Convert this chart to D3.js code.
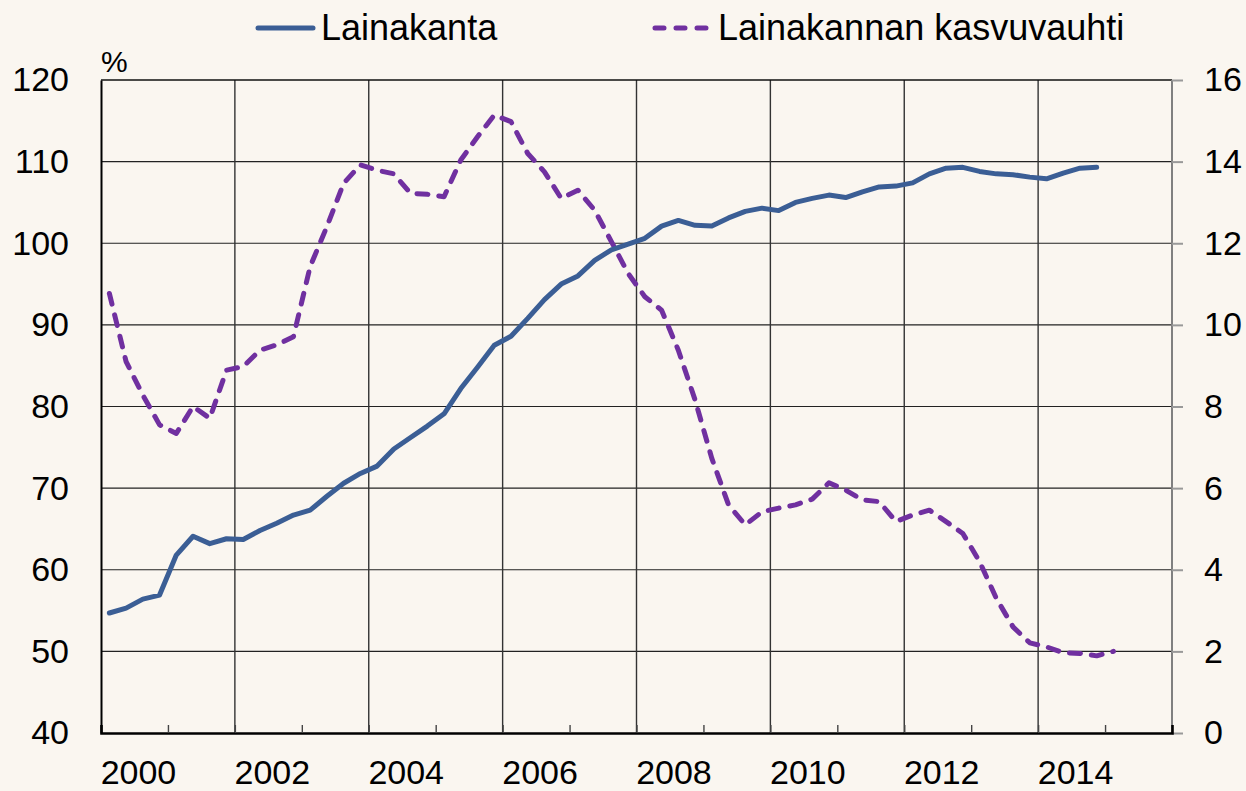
<!DOCTYPE html>
<html>
<head>
<meta charset="utf-8">
<script src="https://cdn.jsdelivr.net/npm/d3@7"></script>
<style>
  html, body { margin: 0; padding: 0; background: #FAF6F0; }
  svg { display: block; font-family: "Liberation Sans", Arial, sans-serif; }
</style>
</head>
<body>
<svg id="chart" width="1246" height="791"></svg>
<script>
// ---- data (quarterly, 2000Q1 ...) ----
const startYear = 2000;
const seriesNames = ["Lainakanta", "Lainakannan kasvuvauhti"];
// Lainakanta, % (left axis), 2000Q1–2014Q4
const lainakanta = [
  54.7, 55.3, 56.4, 56.9, 61.8, 64.1, 63.2, 63.8,
  63.7, 64.8, 65.7, 66.7, 67.3, 69.0, 70.6, 71.8,
  72.7, 74.8, 76.2, 77.6, 79.1, 82.2, 84.8, 87.5,
  88.6, 90.8, 93.1, 95.0, 96.0, 97.9, 99.2, 99.9,
  100.6, 102.1, 102.8, 102.2, 102.1, 103.1, 103.9, 104.3,
  104.0, 105.0, 105.5, 105.9, 105.6, 106.3, 106.9, 107.0,
  107.4, 108.5, 109.2, 109.3, 108.8, 108.5, 108.4, 108.1,
  107.9, 108.6, 109.2, 109.3
];
// Lainakannan kasvuvauhti, % (right axis), 2000Q1–2015Q1
const kasvuvauhti = [
  10.77, 9.10, 8.28, 7.55, 7.34, 8.00, 7.71, 8.89,
  8.98, 9.38, 9.51, 9.71, 11.43, 12.41, 13.47, 13.92,
  13.79, 13.70, 13.22, 13.20, 13.14, 14.04, 14.61, 15.14,
  14.98, 14.20, 13.75, 13.10, 13.30, 12.81, 12.04, 11.26,
  10.69, 10.36, 9.38, 8.16, 6.73, 5.59, 5.10, 5.42,
  5.51, 5.59, 5.73, 6.13, 5.95, 5.71, 5.67, 5.18,
  5.34, 5.46, 5.18, 4.89, 4.20, 3.30, 2.60, 2.21,
  2.11, 1.97, 1.95, 1.89, 2.0
];
const leftTicks = [40, 50, 60, 70, 80, 90, 100, 110, 120];
const rightTicks = [0, 2, 4, 6, 8, 10, 12, 14, 16];
const yearLabels = [2000, 2002, 2004, 2006, 2008, 2010, 2012, 2014];
const minorYears = [2001, 2003, 2005, 2007, 2009, 2011, 2013, 2015];

// ---- layout ----
const W = 1246, H = 791;
const margin = { left: 101, top: 80, right: 74, bottom: 58 };
const iw = W - margin.left - margin.right;
const ih = H - margin.top - margin.bottom;
const blue = "#3B5E95", purple = "#7030A0";
const fontSize = 34;

const svg = d3.select("#chart");
svg.append("rect").attr("width", W).attr("height", H).attr("fill", "#FAF6F0");

const x = d3.scaleLinear().domain([2000, 2016]).range([margin.left, margin.left + iw]);
const yL = d3.scaleLinear().domain([40, 120]).range([margin.top + ih, margin.top]);
const yR = d3.scaleLinear().domain([0, 16]).range([margin.top + ih, margin.top]);

const qx = i => startYear + (i + 0.5) / 4;

// gridlines
const g = svg.append("g");
g.selectAll("line.h").data(leftTicks.slice(1, -1)).join("line")
  .attr("x1", margin.left).attr("x2", margin.left + iw)
  .attr("y1", d => yL(d)).attr("y2", d => yL(d))
  .attr("stroke", "#222").attr("stroke-width", 1.2);
g.selectAll("line.v").data(yearLabels.slice(1)).join("line")
  .attr("y1", margin.top).attr("y2", margin.top + ih)
  .attr("x1", d => x(d)).attr("x2", d => x(d))
  .attr("stroke", "#333").attr("stroke-width", 1.4);

// frame
svg.append("line").attr("x1", margin.left).attr("x2", margin.left + iw)
  .attr("y1", margin.top).attr("y2", margin.top).attr("stroke", "#111").attr("stroke-width", 1.6);
svg.append("line").attr("x1", margin.left + iw).attr("x2", margin.left + iw)
  .attr("y1", margin.top).attr("y2", margin.top + ih).attr("stroke", "#808080").attr("stroke-width", 2);

// right axis
const axR = svg.append("g").attr("transform", `translate(${margin.left + iw},0)`)
  .call(d3.axisRight(yR).tickValues(rightTicks).tickSize(11).tickPadding(21));
axR.select(".domain").remove();
axR.selectAll(".tick line").attr("stroke", "#999").attr("stroke-width", 2);
axR.selectAll("text").attr("font-size", fontSize).attr("fill", "#000")
  .attr("font-family", "Liberation Sans, Arial, sans-serif");

// left axis
const axL = svg.append("g").attr("transform", `translate(${margin.left},0)`)
  .call(d3.axisLeft(yL).tickValues(leftTicks).tickSize(0).tickPadding(32));
axL.select(".domain").attr("stroke", "#000").attr("stroke-width", 2);
axL.selectAll("text").attr("font-size", fontSize).attr("fill", "#000")
  .attr("font-family", "Liberation Sans, Arial, sans-serif");

// bottom axis: major (even) and minor (odd) inside ticks
const axB = svg.append("g").attr("transform", `translate(0,${margin.top + ih})`)
  .call(d3.axisBottom(x).tickValues(yearLabels.concat(minorYears).filter(d => d > 2000 && d < 2016))
    .tickSize(-8).tickFormat(""));
axB.select(".domain").attr("stroke", "#000").attr("stroke-width", 2.6);
axB.selectAll(".tick line").attr("stroke", "#444").attr("stroke-width", 1.4);
svg.append("g").selectAll("text").data(yearLabels).join("text")
  .attr("x", d => x(d + 0.5) + 4).attr("y", 784)
  .attr("text-anchor", "middle").attr("font-size", fontSize).attr("fill", "#000")
  .text(d => d);

// % unit
svg.append("text").attr("x", 101).attr("y", 72).attr("font-size", 30).attr("fill", "#000").text("%");

// lines
const lineL = d3.line().x((d, i) => x(qx(i))).y(d => yL(d));
const lineR = d3.line().x((d, i) => x(qx(i))).y(d => yR(d));

svg.append("path").datum(kasvuvauhti).attr("d", lineR)
  .attr("fill", "none").attr("stroke", purple).attr("stroke-width", 5)
  .attr("stroke-dasharray", "11,11").attr("stroke-linecap", "round").attr("stroke-linejoin", "round");
svg.append("path").datum(lainakanta).attr("d", lineL)
  .attr("fill", "none").attr("stroke", blue).attr("stroke-width", 5)
  .attr("stroke-linecap", "round").attr("stroke-linejoin", "round");

// legend
const leg = svg.append("g");
leg.append("line").attr("x1", 258).attr("x2", 313).attr("y1", 28).attr("y2", 28)
  .attr("stroke", blue).attr("stroke-width", 5).attr("stroke-linecap", "round");
leg.append("text").attr("x", 321).attr("y", 40).attr("font-size", 36).attr("fill", "#000").text(seriesNames[0]);
leg.append("line").attr("x1", 655).attr("x2", 708).attr("y1", 28).attr("y2", 28)
  .attr("stroke", purple).attr("stroke-width", 5).attr("stroke-linecap", "round")
  .attr("stroke-dasharray", "9,12");
leg.append("text").attr("x", 718).attr("y", 40).attr("font-size", 36).attr("fill", "#000").text(seriesNames[1]);
</script>
</body>
</html>
